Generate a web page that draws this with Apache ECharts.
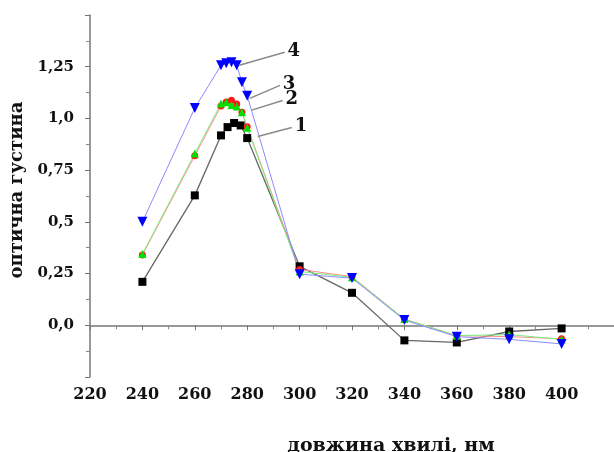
<!DOCTYPE html>
<html>
<head>
<meta charset="utf-8">
<script src="https://cdn.jsdelivr.net/npm/echarts@6/dist/echarts.min.js"></script>
<style>html,body{margin:0;padding:0;background:#fff}#c{width:614px;height:452px}</style>
</head>
<body>
<div id="c"></div>
<script>
var xTicks = [220, 240, 260, 280, 300, 320, 340, 360, 380, 400];
var yTickLabels = {'0': '0,0', '0.25': '0,25', '0.5': '0,5', '0.75': '0,75', '1': '1,0', '1.25': '1,25'};

var s1 = [[240,0.21],[260,0.628],[270,0.918],[272.5,0.958],[275,0.978],[277.5,0.966],[280,0.905],[300,0.285],[320,0.157],[340,-0.073],[360,-0.083],[380,-0.03],[400,-0.015]];
var s2 = [[240,0.34],[260,0.82],[270,1.06],[272,1.08],[274,1.088],[276,1.07],[278,1.03],[280,0.96],[300,0.27],[320,0.235],[340,0.03],[360,-0.05],[380,-0.055],[400,-0.065]];
var s3 = [[240,0.345],[260,0.83],[270,1.072],[272,1.078],[274,1.065],[276,1.058],[278,1.03],[280,0.955],[300,0.26],[320,0.232],[340,0.03],[360,-0.05],[380,-0.045],[400,-0.068]];
var s4 = [[240,0.5],[260,1.05],[270,1.257],[272,1.267],[274,1.272],[276,1.257],[278,1.175],[280,1.11],[300,0.247],[320,0.228],[340,0.025],[360,-0.055],[380,-0.068],[400,-0.09]];

var labelNames = ['1', '2', '3', '4'];
var leaders = [
  [[284, 0.913], [297, 0.956]],
  [[281.7, 1.04], [293.5, 1.087]],
  [[281, 1.097], [292.5, 1.16]],
  [[277, 1.257], [294.3, 1.32]]
];

var serif = '"DejaVu Serif", serif';

function leader(i) {
  return {
    silent: true,
    symbol: 'none',
    lineStyle: {color: '#8a8a8a', width: 1.5, type: 'solid'},
    label: {show: true, position: 'end', distance: 3, formatter: labelNames[i],
      fontFamily: serif, fontWeight: 'bold', fontSize: 18, color: '#111'},
    data: [[{coord: leaders[i][0]}, {coord: leaders[i][1]}]]
  };
}

function mk(name, data, sym, rot, size, mcol, lcol, lw, idx) {
  return {
    name: name, type: 'line', data: data, symbol: sym, symbolSize: size, symbolRotate: rot,
    itemStyle: {color: mcol}, lineStyle: {color: lcol, width: lw}, animation: false,
    markLine: leader(idx)
  };
}

var chart = echarts.init(document.getElementById('c'));
chart.setOption({
  backgroundColor: '#fff',
  animation: false,
  grid: {left: 90, top: 15, right: 0, bottom: 75, containLabel: false, outerBoundsMode: 'none'},
  xAxis: {
    type: 'value', min: 220, max: 420, interval: 20,
    axisLine: {lineStyle: {color: '#777', width: 1.5}},
    axisTick: {show: true, length: 5, lineStyle: {color: '#777'}},
    minorTick: {show: true, splitNumber: 2, length: 4, lineStyle: {color: '#888'}},
    splitLine: {show: false},
    axisLabel: {
      margin: 10, fontFamily: serif, fontWeight: 'bold', fontSize: 16, color: '#111',
      formatter: function (v) { return xTicks.indexOf(v) >= 0 ? String(v) : ''; }
    },
    name: 'довжина хвилі, нм', nameLocation: 'middle', nameGap: 60,
    nameTextStyle: {fontFamily: serif, fontWeight: 'bold', fontSize: 19, color: '#111', padding: [0, 0, 0, 78]}
  },
  yAxis: {
    type: 'value', min: -0.25, max: 1.5, interval: 0.25,
    axisLine: {show: true, lineStyle: {color: '#777', width: 1.5}},
    axisTick: {show: true, length: 5, lineStyle: {color: '#777'}},
    minorTick: {show: true, splitNumber: 2, length: 4, lineStyle: {color: '#888'}},
    splitLine: {show: false},
    axisLabel: {
      margin: 16, fontFamily: serif, fontWeight: 'bold', fontSize: 15, color: '#111',
      formatter: function (v) { var k = String(Math.round(v * 100) / 100); return yTickLabels[k] || ''; }
    },
    name: 'оптична густина', nameLocation: 'middle', nameGap: 64, nameRotate: 90,
    nameTextStyle: {fontFamily: serif, fontWeight: 'bold', fontSize: 18, color: '#111', padding: [0, 0, 0, 12]}
  },
  series: [
    mk('1', s1, 'rect', 0, 8, '#000', '#666', 1.3, 0),
    mk('2', s2, 'circle', 0, 7, '#ff1a1a', '#ff8c8c', 1, 1),
    mk('3', s3, 'triangle', 0, 8, '#00e000', '#7cf07c', 1, 2),
    mk('4', s4, 'triangle', 180, 10, '#0000ff', '#8c8cff', 1, 3)
  ]
});
</script>
</body>
</html>
